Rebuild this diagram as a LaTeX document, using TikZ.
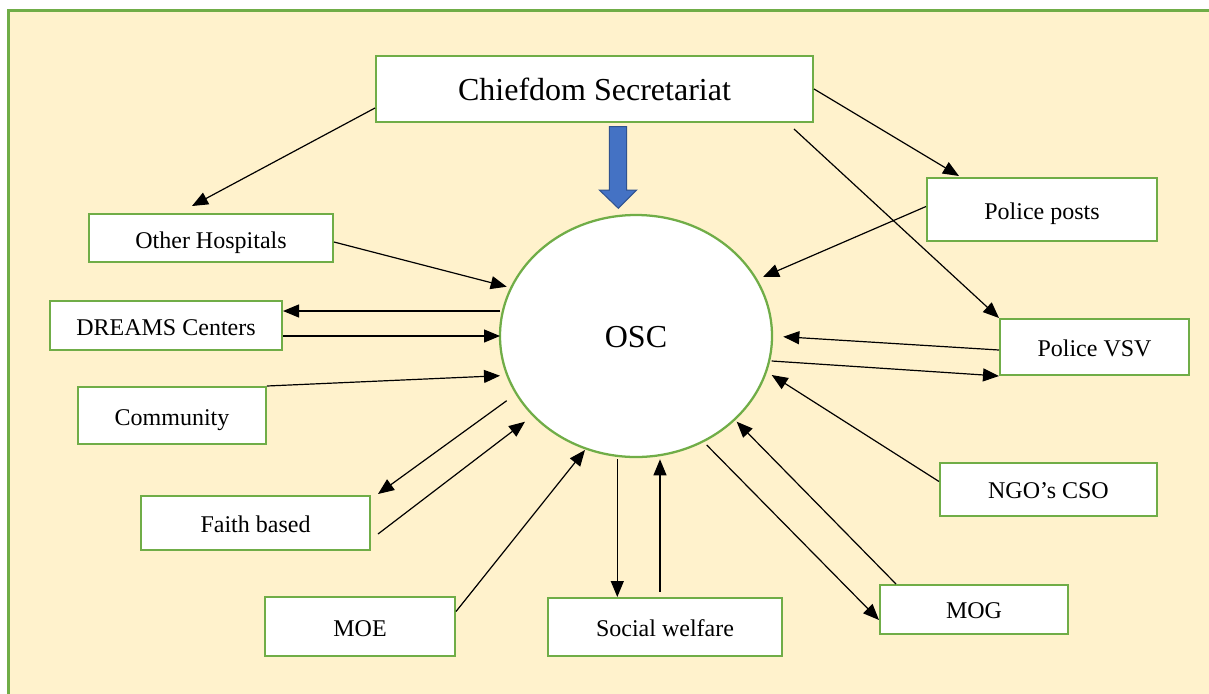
\documentclass[tikz,border=0pt]{standalone}
\usepackage{fontspec}
\setmainfont{Liberation Serif}
\usetikzlibrary{arrows.meta,calc,shapes.geometric}
\definecolor{gframe}{HTML}{70AD47}
\definecolor{bgcream}{HTML}{FFF2CC}
\definecolor{bluefill}{HTML}{4472C4}
\definecolor{blueedge}{HTML}{2F528F}
\begin{document}
\begin{tikzpicture}[x=0.75pt,y=-0.75pt,
  box/.style 2 args={draw=gframe, line width=1.5pt, fill=white, inner sep=0pt,
    minimum width=#1*0.75pt, minimum height=#2*0.75pt,
    font=\fontsize{18}{20}\selectfont},
  ty/.style={text height=#1, text depth=0pt},
  conn/.style={draw=black, line width=0.9pt, -{Triangle[length=12pt,width=9.75pt]}}]
\path[use as bounding box] (0,0) rectangle (1209,693);
\fill[white] (0,0) rectangle (1209,693);
\begin{scope}
\clip (0,0) rectangle (1209,693);
\draw[gframe, line width=2pt, fill=bgcream] (8.7,10.7) rectangle (1230,720);
\end{scope}

% nodes
\node[box={437}{66}, ty=17.25pt, font=\fontsize{24}{28}\selectfont] (chief) at (594.5,89) {Chiefdom Secretariat};
\node[box={244}{48}, ty=15pt] (hosp) at (211,238) {Other Hospitals};
\node[box={232}{49}, ty=14.25pt] (dreams) at (166,325.5) {DREAMS Centers};
\node[box={188}{57}, ty=14.25pt] (comm) at (172,415.5) {Community};
\node[box={229}{54}, ty=13.5pt] (faith) at (255.5,523) {Faith based};
\node[box={190}{59}, ty=14.25pt] (moe) at (360,626.5) {MOE};
\node[box={234}{58}, ty=13.5pt] (social) at (665,627) {Social welfare};
\node[box={188}{49}, ty=12.75pt] (mog) at (974,609.5) {MOG};
\node[box={217}{53}, ty=12.75pt] (ngo) at (1048.5,489.5) {NGO’s CSO};
\node[box={189}{56}, ty=13.5pt] (pvsv) at (1094.5,347) {Police VSV};
\node[box={230}{63}, ty=14.25pt] (pposts) at (1042,209.5) {Police posts};
\node[ellipse, draw=gframe, line width=1.7pt, fill=white, inner sep=0pt,
  minimum width=272*0.75pt, minimum height=242*0.75pt, ty=17.25pt,
  font=\fontsize{24}{28}\selectfont] (osc) at (636,336) {OSC};

% blue block arrow
\draw[blueedge, fill=bluefill, line width=0.75pt]
  (609.3,126.7) -- (626.7,126.7) -- (626.7,190) -- (636.7,190)
  -- (618.3,208.3) -- (599.3,190) -- (609.3,190) -- cycle;

% helper points on the OSC border
\coordinate (sw1) at ($(osc.center)+(-18.7,123.3)$);
\coordinate (sw2) at ($(osc.center)+(24,123.3)$);

% connectors
\draw[conn] ($(chief.west)+(0,19)$) -- ($(hosp.north west)+(104,-7)$);
\draw[conn] (chief.east) -- ($(pposts.north west)+(33,-1)$);
\draw[conn] ($(chief.south east)+(-20,6)$) -- (pvsv.north west);
\draw[conn] ($(pposts.west)+(0,-3)$) -- ($(osc.center)+(127,-59)$);
\draw[conn] ($(hosp.east)+(0,4)$) -- ($(osc.center)+(-129.3,-49.3)$);
\draw[conn] ($(osc.center)+(-136,-25)$) -- ($(dreams.east)+(0,-14.5)$);
\draw[conn] ($(dreams.east)+(0,10.5)$) -- ($(osc.center)+(-136,0)$);
\draw[conn] (comm.north east) -- ($(osc.center)+(-136,39.7)$);
\draw[conn] ($(osc.center)+(-129.3,64.7)$) -- ($(faith.north east)+(7,-1)$);
\draw[conn] ($(faith.east)+(7,11)$) -- ($(osc.center)+(-111,85.7)$);
\draw[conn] ($(moe.east)+(0,-15)$) -- ($(osc.center)+(-51,114)$);
\draw[conn] (sw1) -- (sw1 |- social.north);
\draw[conn] ([yshift=4pt]sw2 |- social.north) -- (sw2);
\draw[conn] ($(osc.center)+(70.7,109)$) -- ($(mog.west)+(0,10.5)$);
\draw[conn] ($(mog.north west)+(17,0)$) -- ($(osc.center)+(100.7,85.7)$);
\draw[conn] ($(ngo.west)+(0,-8)$) -- ($(osc.center)+(135.7,39)$);
\draw[conn] ($(pvsv.west)+(0,3)$) -- ($(osc.center)+(147.3,0.7)$);
\draw[conn] ($(osc.center)+(135.7,25)$) -- (pvsv.south west);
\end{tikzpicture}
\end{document}
